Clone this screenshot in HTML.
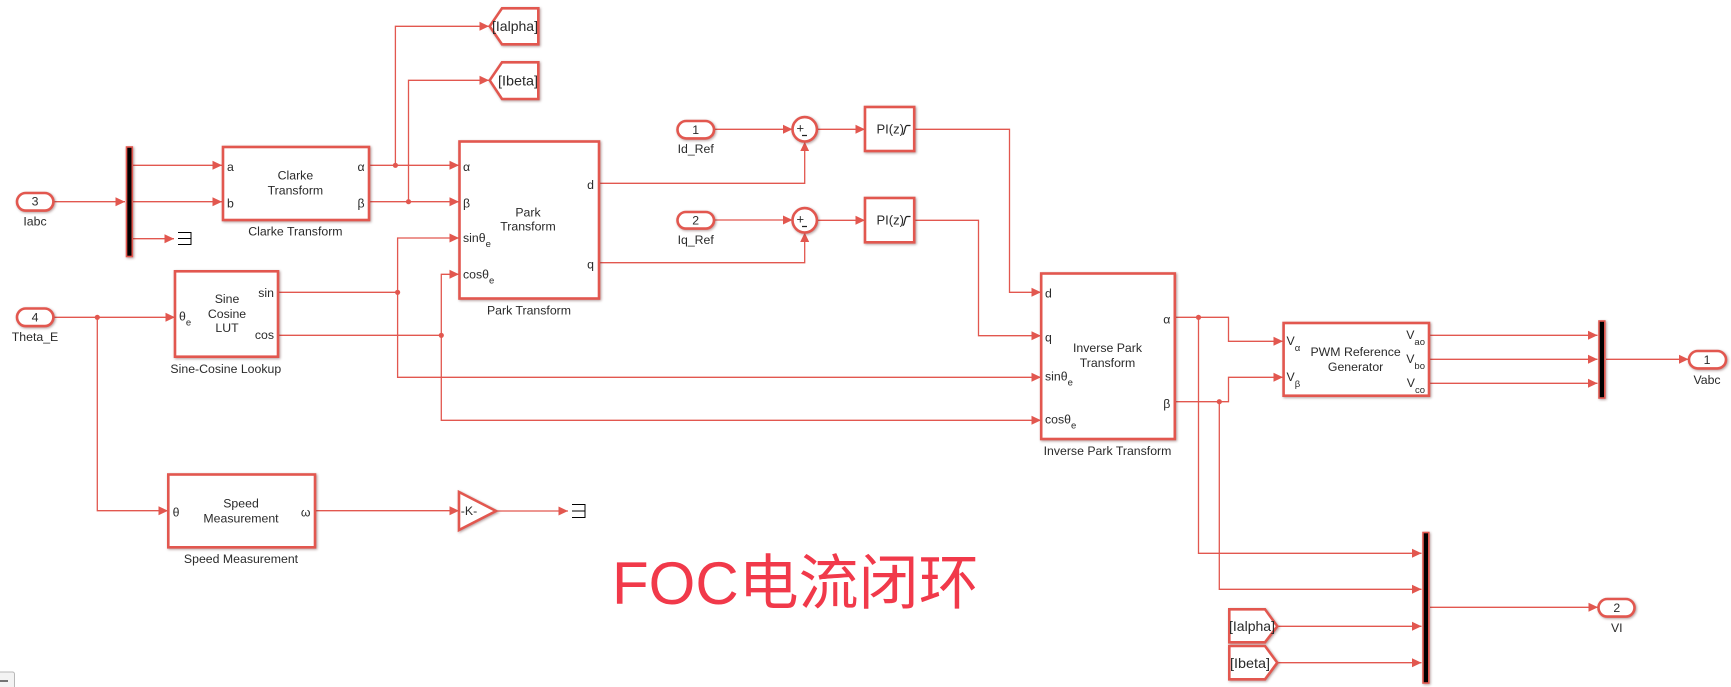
<!DOCTYPE html>
<html><head><meta charset="utf-8"><style>
html,body{margin:0;padding:0;background:#fff;width:1731px;height:687px;overflow:hidden}
svg{display:block;position:absolute;left:0;top:0}
.w{fill:none;stroke:#e2574f;stroke-width:1.3;marker-end:url(#a)}
.n{fill:none;stroke:#222;stroke-width:1.2}
.b{fill:#fff;stroke:#e2574f;stroke-width:2.6;filter:drop-shadow(1.5px 1.5px 1.2px rgba(90,40,40,.45))}
.m{fill:#000;stroke:#e2574f;stroke-width:1.6;filter:drop-shadow(1.5px 1.5px 1.2px rgba(90,40,40,.45))}
.d{fill:#e2574f}
.t{stroke:#000;stroke-width:1;fill:none}
text{font-family:"Liberation Sans","DejaVu Sans",sans-serif;font-size:12.3px;fill:#2a2a2a;text-anchor:middle;dominant-baseline:central}
.l{text-anchor:start}.r{text-anchor:end}
.s{font-size:9.5px}
.g{font-family:"Liberation Sans",sans-serif;font-size:14px}
#all{filter:blur(.3px)}
</style></head><body>
<svg width="1731" height="687" viewBox="0 0 1731 687" xmlns="http://www.w3.org/2000/svg">
<defs><marker id="a" markerUnits="userSpaceOnUse" markerWidth="11" markerHeight="11" refX="9.5" refY="5.5" orient="auto"><path d="M0 1L9.5 5.5L0 10Z" fill="#e2574f"/></marker></defs>
<g id="all">
<!-- wires -->
<path class="w" d="M54 201.7H125"/>
<path class="w" d="M133 165.3H222"/>
<path class="w" d="M133 201.7H222"/>
<path class="w" d="M133 238.7H174"/>
<path class="w" d="M369 165.3H459"/>
<path class="w" d="M369 201.7H459"/>
<path class="w" d="M395.4 165.3V26.3H489"/>
<path class="w" d="M408.5 201.7V80.3H489"/>
<path class="w" d="M278 292.3H397.6V238H459"/>
<path class="w" d="M278 335.3H441.3V274.3H459"/>
<path class="w" d="M397.6 292.3V377.3H1041"/>
<path class="w" d="M441.3 335.3V420.3H1041"/>
<path class="w" d="M54 317.3H175"/>
<path class="w" d="M97.3 317.3V510.7H168"/>
<path class="w" d="M315 510.7H459"/>
<path class="w" d="M496 511H568"/>
<path class="w" d="M714 129.3H792.5"/>
<path class="w" d="M817 129.3H865"/>
<path class="w" d="M714 220H792.5"/>
<path class="w" d="M817 220.3H865"/>
<path class="w" d="M599 183.3H804.7V141.7"/>
<path class="w" d="M599 262.7H804.7V232.5"/>
<path class="w" d="M914 129.3H1009.5V292.3H1041"/>
<path class="w" d="M914 220.3H978.5V335.7H1041"/>
<path class="w" d="M1175 317.3H1228.5V341.3H1283"/>
<path class="w" d="M1175 401.7H1228.5V377.3H1283"/>
<path class="w" d="M1198.5 317.3V553.3H1421.5"/>
<path class="w" d="M1219.3 401.7V589.3H1421.5"/>
<path class="w" d="M1277.5 626.3H1421.5"/>
<path class="w" d="M1277.5 662.7H1421.5"/>
<path class="w" d="M1429 335.3H1597.5"/>
<path class="w" d="M1429 359.3H1597.5"/>
<path class="w" d="M1429 383.3H1597.5"/>
<path class="w" d="M1606 359.3H1688.5"/>
<path class="w" d="M1430 607.3H1598"/>
<!-- dots -->
<circle class="d" cx="395.4" cy="165.3" r="2.6"/><circle class="d" cx="408.5" cy="201.7" r="2.6"/>
<circle class="d" cx="397.6" cy="292.3" r="2.6"/><circle class="d" cx="441.3" cy="335.3" r="2.6"/>
<circle class="d" cx="97.3" cy="317.3" r="2.6"/><circle class="d" cx="1198.5" cy="317.3" r="2.6"/>
<circle class="d" cx="1219.3" cy="401.7" r="2.6"/>
<!-- muxes -->
<rect class="m" x="126.5" y="147" width="5.8" height="109.5"/>
<rect class="m" x="1599" y="321" width="5.8" height="77"/>
<rect class="m" x="1423" y="532.5" width="5.8" height="150.5"/>
<!-- blocks -->
<rect class="b" x="223" y="147" width="146" height="73"/>
<rect class="b" x="459.5" y="141.5" width="139.5" height="157"/>
<rect class="b" x="175" y="271.3" width="103" height="85.4"/>
<rect class="b" x="168.3" y="474.5" width="146.7" height="72.8"/>
<rect class="b" x="865" y="107" width="49.2" height="44"/>
<rect class="b" x="865" y="198" width="49.2" height="44.3"/>
<rect class="b" x="1041.2" y="273.5" width="133.6" height="165.5"/>
<rect class="b" x="1283.6" y="323" width="145.4" height="72.7"/>
<circle class="b" cx="804.7" cy="129.3" r="12.2"/>
<circle class="b" cx="804.7" cy="220.3" r="12.2"/>
<path class="b" d="M459 492L496 511L459 530Z"/>
<!-- ports -->
<rect class="b" x="17" y="193" width="36.4" height="17.6" rx="8.8"/>
<rect class="b" x="17" y="308.5" width="36.4" height="17.6" rx="8.8"/>
<rect class="b" x="677.5" y="121" width="36.5" height="17.4" rx="8.7"/>
<rect class="b" x="677.5" y="212" width="36.5" height="16.6" rx="8.3"/>
<rect class="b" x="1689" y="351" width="37" height="17.4" rx="8.7"/>
<rect class="b" x="1598.5" y="599" width="36" height="17.6" rx="8.8"/>
<!-- goto/from -->
<path class="b" d="M489.7 26.3L502 8.3H538.3V44.3H502Z"/>
<path class="b" d="M489.7 80.3L502 62.3H538.3V99H502Z"/>
<path class="b" d="M1229.3 609.3H1265L1277.3 626.3L1265 642.3H1229.3Z"/>
<path class="b" d="M1229.3 646H1265L1277.3 662.7L1265 679.3H1229.3Z"/>
<!-- terminators -->
<path class="t" d="M178 232.5H191V244.5H178"/>
<path class="t" d="M178 238.5H191"/>
<path class="t" d="M572 504.5H585V517.5H572"/>
<path class="t" d="M572 511H585"/>
<!-- bottom-left control -->
<rect x="-4" y="672" width="18.5" height="20" rx="2" fill="#f3f3f3" stroke="#b8b8b8"/>
<path d="M0 681H8" stroke="#555" stroke-width="1.6"/>
<!-- labels -->
<text x="35" y="201.7">3</text><text x="35" y="221.7">Iabc</text>
<text x="35" y="317.3">4</text><text x="35" y="337">Theta_E</text>
<text x="695.7" y="130">1</text><text x="695.7" y="149">Id_Ref</text>
<text x="695.7" y="220.5">2</text><text x="695.7" y="240">Iq_Ref</text>
<text x="1707" y="360">1</text><text x="1707" y="380">Vabc</text>
<text x="1616.8" y="608">2</text><text x="1616.8" y="628">VI</text>
<text x="295.4" y="175.7">Clarke</text><text x="295.4" y="190.7">Transform</text>
<text class="l" x="227" y="167">a</text><text class="l" x="227" y="203.7">b</text>
<text x="361" y="167">α</text><text x="361" y="203.7">β</text>
<text x="295.4" y="231.7">Clarke Transform</text>
<text x="528" y="212.7">Park</text><text x="528" y="226.7">Transform</text>
<text class="l" x="463" y="167">α</text><text class="l" x="463" y="203.7">β</text>
<text class="l" x="463" y="238">sinθ<tspan class="s" dy="6">e</tspan></text>
<text class="l" x="463" y="274.3">cosθ<tspan class="s" dy="6">e</tspan></text>
<text x="590.5" y="185">d</text><text x="590.5" y="264.3">q</text>
<text x="529" y="310.7">Park Transform</text>
<text x="227" y="299">Sine</text><text x="227" y="314">Cosine</text><text x="227" y="328">LUT</text>
<text class="l" x="179" y="316.7">θ<tspan class="s" dy="6">e</tspan></text>
<text class="r" x="274" y="293">sin</text><text class="r" x="274" y="335">cos</text>
<text x="225.8" y="369">Sine-Cosine Lookup</text>
<text x="241" y="503.7">Speed</text><text x="241" y="518.7">Measurement</text>
<text x="176" y="512.7">θ</text><text x="305.7" y="512.7">ω</text>
<text x="241" y="559">Speed Measurement</text>
<text x="469" y="511">-K-</text>
<text class="g" x="515" y="26" textLength="46" lengthAdjust="spacingAndGlyphs">[Ialpha]</text>
<text class="g" x="518" y="80.5" textLength="40" lengthAdjust="spacingAndGlyphs">[Ibeta]</text>
<text class="g" x="1252" y="626" textLength="46" lengthAdjust="spacingAndGlyphs">[Ialpha]</text>
<text class="g" x="1250" y="663" textLength="40" lengthAdjust="spacingAndGlyphs">[Ibeta]</text>
<text class="l" x="796.5" y="128" style="font-size:13px">+</text>
<path class="n" d="M802 135.5H807M802 226.5H807"/>
<text class="l" x="796.5" y="219" style="font-size:13px">+</text>
<text class="l" x="876.5" y="129" style="font-size:13px">PI(z)</text>
<text class="l" x="876.5" y="220" style="font-size:13px">PI(z)</text>
<path class="n" d="M902.5 134.5C905 134.5 904.5 125.5 907 125.5H910.5M902.5 225.5C905 225.5 904.5 216.5 907 216.5H910.5"/>
<text x="1107.5" y="348">Inverse Park</text><text x="1107.5" y="363">Transform</text>
<text class="l" x="1045" y="293.7">d</text><text class="l" x="1045" y="337.7">q</text>
<text class="l" x="1045" y="376.7">sinθ<tspan class="s" dy="6">e</tspan></text>
<text class="l" x="1045" y="419.3">cosθ<tspan class="s" dy="6">e</tspan></text>
<text x="1166.8" y="319.3">α</text><text x="1166.8" y="404">β</text>
<text x="1107.5" y="451">Inverse Park Transform</text>
<text x="1355.6" y="352">PWM Reference</text><text x="1355.6" y="367">Generator</text>
<text class="l" x="1286.5" y="341">V<tspan class="s" dy="7">α</tspan></text>
<text class="l" x="1286.5" y="377">V<tspan class="s" dy="7">β</tspan></text>
<text class="r" x="1425" y="335">V<tspan class="s" dy="7">ao</tspan></text>
<text class="r" x="1425" y="359">V<tspan class="s" dy="7">bo</tspan></text>
<text class="r" x="1425" y="383">V<tspan class="s" dy="7">co</tspan></text>
<text class="l" x="612" y="604" style="font-size:60px;fill:#f1394a;dominant-baseline:alphabetic;font-family:'Liberation Sans','Noto Sans CJK SC',sans-serif">FOC电流闭环</text>
</g>
</svg>
</body></html>
